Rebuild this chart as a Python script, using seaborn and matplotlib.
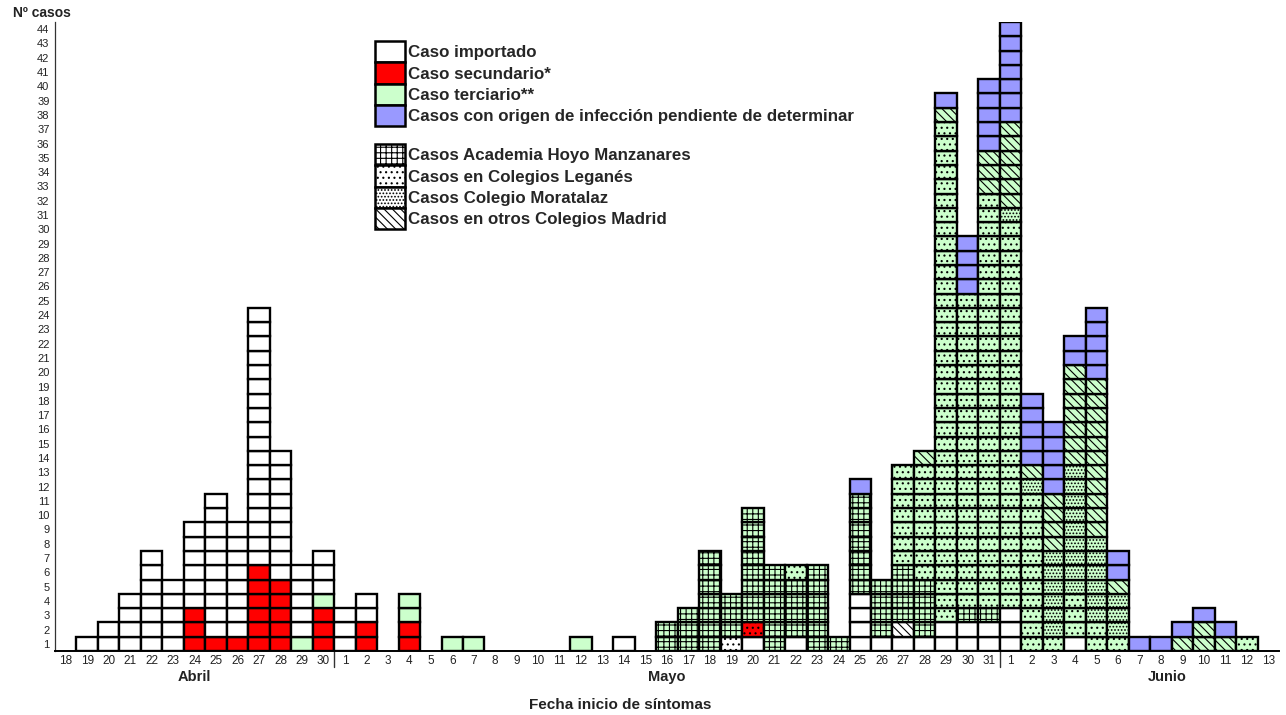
import matplotlib
matplotlib.use("Agg")
import matplotlib.pyplot as plt
from matplotlib.patches import Patch
from matplotlib.transforms import blended_transform_factory
import pandas as pd
import seaborn as sns

# ---------------------------------------------------------------------------
# Fecha de inicio de síntomas: 18 de abril – 13 de junio
# ---------------------------------------------------------------------------
dias_abril = [18, 19, 20, 21, 22, 23, 24, 25, 26, 27, 28, 29, 30]
dias_mayo = list(range(1, 32))
dias_junio = list(range(1, 14))
etiquetas_dia = dias_abril + dias_mayo + dias_junio

meses = ["Abril", "Mayo", "Junio"]
posicion_mes = [6, 28, 51.3]          # día (índice) bajo el que se centra el mes
separacion_mes = [12.5, 43.5]         # límites abril|mayo y mayo|junio

# Nº de casos por día (abril 18-30 | mayo 1-31 | junio 1-13)
importado = (
    [0, 1, 2, 4, 7, 5, 6, 10, 8, 18, 9, 5, 3]
    + [3, 2, 0, 0, 0, 0, 0, 0, 0, 0, 0, 0, 0, 1, 0, 0, 0, 0, 0, 1,
       0, 1, 0, 0, 4, 1, 1, 1, 2, 2, 2]
    + [3, 0, 0, 1, 0, 0, 0, 0, 0, 0, 0, 0, 0]
)
importado_leganes = (
    [0, 0, 0, 0, 0, 0, 0, 0, 0, 0, 0, 0, 0]
    + [0, 0, 0, 0, 0, 0, 0, 0, 0, 0, 0, 0, 0, 0, 0, 0, 0, 0, 1, 0,
       0, 0, 0, 0, 0, 0, 0, 0, 0, 0, 0]
    + [0, 0, 0, 0, 0, 0, 0, 0, 0, 0, 0, 0, 0]
)
importado_otros = (
    [0, 0, 0, 0, 0, 0, 0, 0, 0, 0, 0, 0, 0]
    + [0, 0, 0, 0, 0, 0, 0, 0, 0, 0, 0, 0, 0, 0, 0, 0, 0, 0, 0, 0,
       0, 0, 0, 0, 0, 0, 1, 0, 0, 0, 0]
    + [0, 0, 0, 0, 0, 0, 0, 0, 0, 0, 0, 0, 0]
)
secundario = (
    [0, 0, 0, 0, 0, 0, 3, 1, 1, 6, 5, 0, 3]
    + [0, 2, 0, 2, 0, 0, 0, 0, 0, 0, 0, 0, 0, 0, 0, 0, 0, 0, 0, 0,
       0, 0, 0, 0, 0, 0, 0, 0, 0, 0, 0]
    + [0, 0, 0, 0, 0, 0, 0, 0, 0, 0, 0, 0, 0]
)
secundario_leganes = (
    [0, 0, 0, 0, 0, 0, 0, 0, 0, 0, 0, 0, 0]
    + [0, 0, 0, 0, 0, 0, 0, 0, 0, 0, 0, 0, 0, 0, 0, 0, 0, 0, 0, 1,
       0, 0, 0, 0, 0, 0, 0, 0, 0, 0, 0]
    + [0, 0, 0, 0, 0, 0, 0, 0, 0, 0, 0, 0, 0]
)
terciario = (
    [0, 0, 0, 0, 0, 0, 0, 0, 0, 0, 0, 1, 1]
    + [0, 0, 0, 2, 0, 1, 1, 0, 0, 0, 0, 1, 0, 0, 0, 0, 0, 0, 0, 0,
       0, 0, 0, 0, 0, 0, 0, 0, 0, 0, 0]
    + [0, 0, 0, 0, 0, 0, 0, 0, 0, 0, 0, 0, 0]
)
terciario_academia = (
    [0, 0, 0, 0, 0, 0, 0, 0, 0, 0, 0, 0, 0]
    + [0, 0, 0, 0, 0, 0, 0, 0, 0, 0, 0, 0, 0, 0, 0, 2, 3, 7, 3, 8,
       6, 4, 6, 1, 7, 4, 4, 4, 0, 1, 1]
    + [0, 0, 0, 0, 0, 0, 0, 0, 0, 0, 0, 0, 0]
)
terciario_leganes = (
    [0, 0, 0, 0, 0, 0, 0, 0, 0, 0, 0, 0, 0]
    + [0, 0, 0, 0, 0, 0, 0, 0, 0, 0, 0, 0, 0, 0, 0, 0, 0, 0, 0, 0,
       0, 1, 0, 0, 0, 0, 7, 8, 35, 22, 29]
    + [27, 11, 1, 3, 2, 1, 0, 0, 0, 0, 0, 1, 0]
)
terciario_moratalaz = (
    [0, 0, 0, 0, 0, 0, 0, 0, 0, 0, 0, 0, 0]
    + [0, 0, 0, 0, 0, 0, 0, 0, 0, 0, 0, 0, 0, 0, 0, 0, 0, 0, 0, 0,
       0, 0, 0, 0, 0, 0, 0, 0, 0, 0, 0]
    + [1, 1, 6, 9, 6, 3, 0, 0, 0, 0, 0, 0, 0]
)
terciario_otros = (
    [0, 0, 0, 0, 0, 0, 0, 0, 0, 0, 0, 0, 0]
    + [0, 0, 0, 0, 0, 0, 0, 0, 0, 0, 0, 0, 0, 0, 0, 0, 0, 0, 0, 0,
       0, 0, 0, 0, 0, 0, 0, 1, 1, 0, 3]
    + [6, 1, 4, 7, 11, 1, 0, 0, 1, 2, 1, 0, 0]
)
pendiente = (
    [0, 0, 0, 0, 0, 0, 0, 0, 0, 0, 0, 0, 0]
    + [0, 0, 0, 0, 0, 0, 0, 0, 0, 0, 0, 0, 0, 0, 0, 0, 0, 0, 0, 0,
       0, 0, 0, 0, 1, 0, 0, 0, 1, 4, 5]
    + [7, 5, 5, 2, 5, 2, 1, 1, 1, 1, 1, 0, 0]
)

series = {
    "importado": importado,
    "importado_leganes": importado_leganes,
    "importado_otros": importado_otros,
    "secundario": secundario,
    "secundario_leganes": secundario_leganes,
    "terciario": terciario,
    "terciario_academia": terciario_academia,
    "terciario_leganes": terciario_leganes,
    "terciario_moratalaz": terciario_moratalaz,
    "terciario_otros": terciario_otros,
    "pendiente": pendiente,
}

# Orden de apilado (de abajo arriba) antes y después del brote de la academia
orden_inicial = ["secundario", "secundario_leganes", "terciario", "importado",
                 "importado_leganes", "importado_otros", "terciario_academia",
                 "terciario_leganes", "terciario_moratalaz", "terciario_otros",
                 "pendiente"]
orden_final = ["importado", "importado_leganes", "importado_otros",
               "secundario", "secundario_leganes", "terciario",
               "terciario_academia", "terciario_leganes", "terciario_moratalaz",
               "terciario_otros", "pendiente"]

# Colores y tramas
BLANCO, ROJO, VERDE, AZUL = "#FFFFFF", "#FF0000", "#CCFFCC", "#9999FF"
T_ACADEMIA, T_LEGANES, T_MORATALAZ, T_OTROS = "+++", "...", ".....", "\\\\\\\\"
ESTILO = {
    "importado": (BLANCO, ""),
    "importado_leganes": (BLANCO, T_LEGANES),
    "importado_otros": (BLANCO, T_OTROS),
    "secundario": (ROJO, ""),
    "secundario_leganes": (ROJO, T_LEGANES),
    "terciario": (VERDE, ""),
    "terciario_academia": (VERDE, T_ACADEMIA),
    "terciario_leganes": (VERDE, T_LEGANES),
    "terciario_moratalaz": (VERDE, T_MORATALAZ),
    "terciario_otros": (VERDE, T_OTROS),
    "pendiente": (AZUL, ""),
}

# ---------------------------------------------------------------------------
# Una fila por caso, con su nivel dentro de la columna del día
# ---------------------------------------------------------------------------
n_dias = len(etiquetas_dia)
primer_dia_academia = next(i for i, v in enumerate(terciario_academia) if v > 0)
filas = []
for i in range(n_dias):
    orden = orden_inicial if i < primer_dia_academia else orden_final
    nivel = 0
    for tipo in orden:
        for _ in range(series[tipo][i]):
            nivel += 1
            filas.append({"dia": i, "nivel": nivel, "tipo": tipo, "casos": 1})
celdas = pd.DataFrame(filas)
max_casos = int(celdas["nivel"].max())

# ---------------------------------------------------------------------------
# Figura
# ---------------------------------------------------------------------------
sns.set_style("white")
plt.rcParams["font.family"] = ["Liberation Sans", "DejaVu Sans"]
plt.rcParams["hatch.linewidth"] = 0.8

W, H = 1286, 715
fig = plt.figure(figsize=(W / 100, H / 100), dpi=100)
ax = fig.add_axes([55 / W, 64 / H, (1279 - 55) / W, (651 - 22) / H])

posiciones = list(range(n_dias))
for nivel, capa in celdas.groupby("nivel"):
    n0 = len(ax.patches)
    sns.barplot(data=capa, x="dia", y="casos", order=posiciones,
                bottom=nivel - 1, width=1, errorbar=None, saturation=1,
                color="white", ax=ax)
    tipo_por_dia = dict(zip(capa["dia"], capa["tipo"]))
    for p in ax.patches[n0:]:
        d = int(round(p.get_x() + p.get_width() / 2))
        tipo = tipo_por_dia.get(d)
        if tipo is None:
            p.set_visible(False)
            continue
        cara, trama = ESTILO[tipo]
        p.set_facecolor(cara)
        p.set_hatch(trama)
        p.set_edgecolor("black")
        p.set_linewidth(1.7)

ax.set_xlim(-0.5, n_dias - 0.5)
ax.set_ylim(0, max_casos)
ax.set_xlabel("")
ax.set_ylabel("")

ax.set_yticks([k - 0.5 for k in range(1, max_casos + 1)],
              [str(k) for k in range(1, max_casos + 1)])
ax.set_xticks(posiciones, [str(d) for d in etiquetas_dia])
ax.tick_params(axis="y", length=0, pad=4, labelsize=8, labelcolor="#222222")
ax.tick_params(axis="x", length=0, pad=3, labelsize=8.5, labelcolor="#222222")

for lado in ("top", "right"):
    ax.spines[lado].set_visible(False)
ax.spines["left"].set_color("#333333")
ax.spines["left"].set_linewidth(0.9)
ax.spines["bottom"].set_color("black")
ax.spines["bottom"].set_linewidth(1.4)

mezcla = blended_transform_factory(ax.transData, ax.transAxes)
alto_ejes = 651 - 22
for xs in separacion_mes:
    ax.plot([xs, xs], [0, -16 / alto_ejes], transform=mezcla, clip_on=False,
            color="#333333", lw=1)
for nombre, xm in zip(meses, posicion_mes):
    ax.text(xm, -26 / alto_ejes, nombre, transform=mezcla, ha="center",
            va="center", fontsize=10.5, fontweight="bold", color="#222222")

fig.text(620 / W, 1 - 705 / H, "Fecha inicio de síntomas", ha="center",
         va="center", fontsize=11, fontweight="bold", color="#222222")
fig.text(13 / W, 1 - 13 / H, "Nº casos", ha="left", va="center",
         fontsize=10, fontweight="bold", color="#222222")

# Leyendas: tipo de caso (color) y agrupación (trama)
fuente_leyenda = {"weight": "bold", "size": 12.2}
opciones = dict(loc="upper left", frameon=False, borderpad=0,
                borderaxespad=0, labelspacing=0, handlelength=1.77,
                handleheight=1.56, handletextpad=0.18, prop=fuente_leyenda)
tipos_caso = [
    (BLANCO, "Caso importado"),
    (ROJO, "Caso secundario*"),
    (VERDE, "Caso terciario**"),
    (AZUL, "Casos con origen de infección pendiente de determinar"),
]
agrupaciones = [
    (T_ACADEMIA, "Casos Academia Hoyo Manzanares"),
    (T_LEGANES, "Casos en Colegios Leganés"),
    (T_MORATALAZ, "Casos Colegio Moratalaz"),
    (T_OTROS, "Casos en otros Colegios Madrid"),
]
fig.legend(handles=[Patch(facecolor=c, edgecolor="black", linewidth=1.8, label=t)
                    for c, t in tipos_caso],
           bbox_to_anchor=(375 / W, 1 - 41 / H), **opciones)
fig.legend(handles=[Patch(facecolor="white", edgecolor="black", linewidth=1.8,
                          hatch=h, label=t) for h, t in agrupaciones],
           bbox_to_anchor=(375 / W, 1 - 144 / H), **opciones)

fig.savefig("out.png", dpi=100, facecolor="white")
